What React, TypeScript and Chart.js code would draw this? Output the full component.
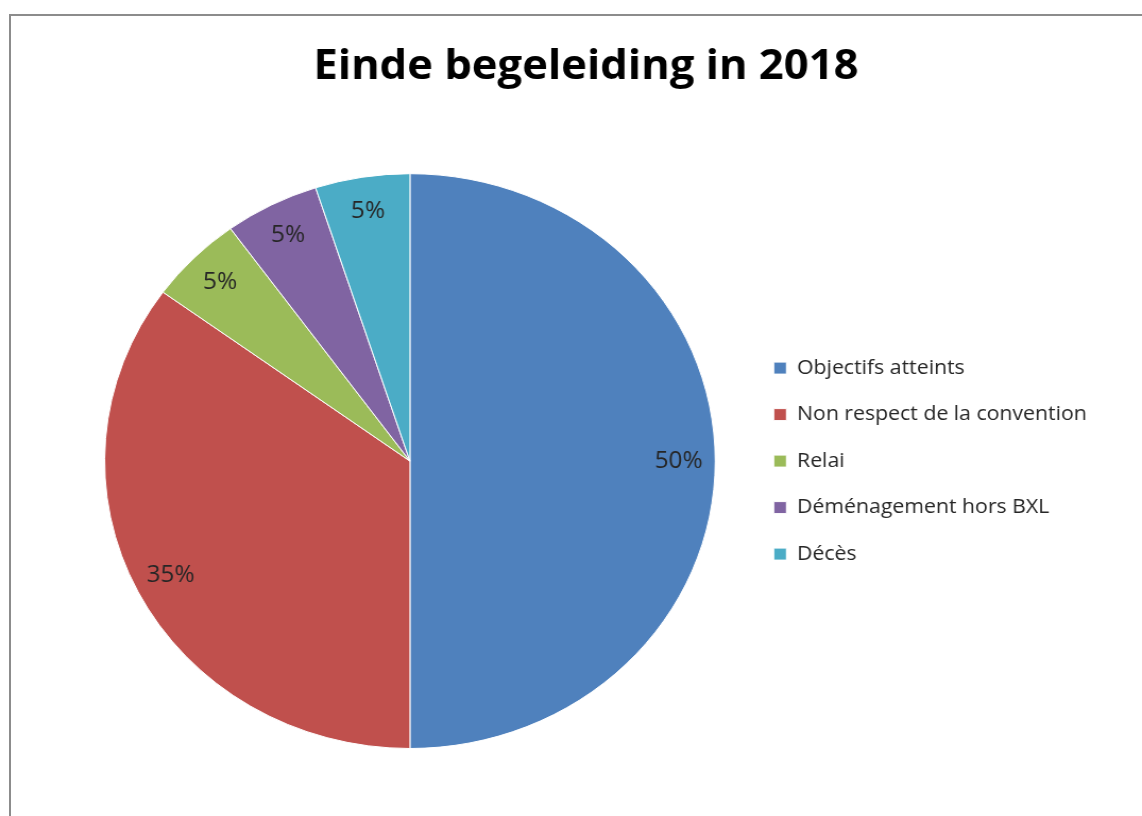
import React, { useEffect, useRef } from "react";
import { Chart, registerables } from "chart.js";

Chart.register(...registerables);

const titleText = "Einde begeleiding in 2018";
const categories = [
  "Objectifs atteints",
  "Non respect de la convention",
  "Relai",
  "Déménagement hors BXL",
  "Décès",
];
const counts = [10, 7, 1, 1, 1];
const sliceColors = ["#4F81BD", "#C0504D", "#9BBB59", "#8064A2", "#4BACC6"];

const FONT = "'Open Sans', sans-serif";
const STRETCH = 1142 / 1075;

const pctLabels = {
  id: "pctLabels",
  afterDatasetsDraw(chart: any) {
    const ctx = chart.ctx;
    const meta = chart.getDatasetMeta(0);
    const data = chart.data.datasets[0].data as number[];
    const total = data.reduce((a, b) => a + b, 0);
    ctx.save();
    ctx.font = `23px ${FONT}`;
    ctx.fillStyle = "#262626";
    ctx.textAlign = "center";
    ctx.textBaseline = "middle";
    meta.data.forEach((arc: any, i: number) => {
      const p = arc.getProps(["x", "y", "startAngle", "endAngle", "outerRadius"], true);
      const mid = (p.startAngle + p.endAngle) / 2;
      const r = p.outerRadius * 0.88;
      const pct = Math.round((data[i] / total) * 100) + "%";
      ctx.fillText(pct, p.x + Math.cos(mid) * r, p.y + Math.sin(mid) * r);
    });
    ctx.restore();
  },
};

export default function App() {
  const ref = useRef<HTMLCanvasElement | null>(null);
  useEffect(() => {
    if (!ref.current) return;
    const chart = new Chart(ref.current, {
      type: "pie",
      data: {
        labels: categories,
        datasets: [
          {
            data: counts,
            backgroundColor: sliceColors,
            borderColor: "#ffffff",
            borderWidth: 1,
          },
        ],
      },
      options: {
        responsive: false,
        animation: false,
        layout: { padding: { left: 70, right: 42, top: 0, bottom: 67 } },
        plugins: {
          tooltip: { enabled: false },
          title: {
            display: true,
            text: titleText,
            color: "#000000",
            font: { family: FONT, size: 41, weight: "bold" },
            padding: { top: 43, bottom: 81 },
          },
          legend: {
            position: "right",
            fullSize: false,
            labels: {
              color: "#262626",
              font: { family: FONT, size: 20 },
              boxWidth: 12,
              boxHeight: 12,
              padding: 26.5,
            },
          },
        },
      },
      plugins: [pctLabels],
    });
    return () => chart.destroy();
  }, []);

  return (
    <div style={{ position: "fixed", left: 0, top: 0, width: 1142, height: 816, background: "#fff", overflow: "hidden" }}>
      <div style={{ position: "absolute", left: 0, top: 0, transform: `scaleX(${STRETCH})`, transformOrigin: "0 0" }}>
        <canvas ref={ref} width={1075} height={816} />
      </div>
      <div
        style={{
          position: "absolute",
          left: 9,
          top: 14,
          width: 1200,
          height: 900,
          borderTop: "2px solid #8c8c8c",
          borderLeft: "2px solid #8c8c8c",
          pointerEvents: "none",
        }}
      />
    </div>
  );
}
